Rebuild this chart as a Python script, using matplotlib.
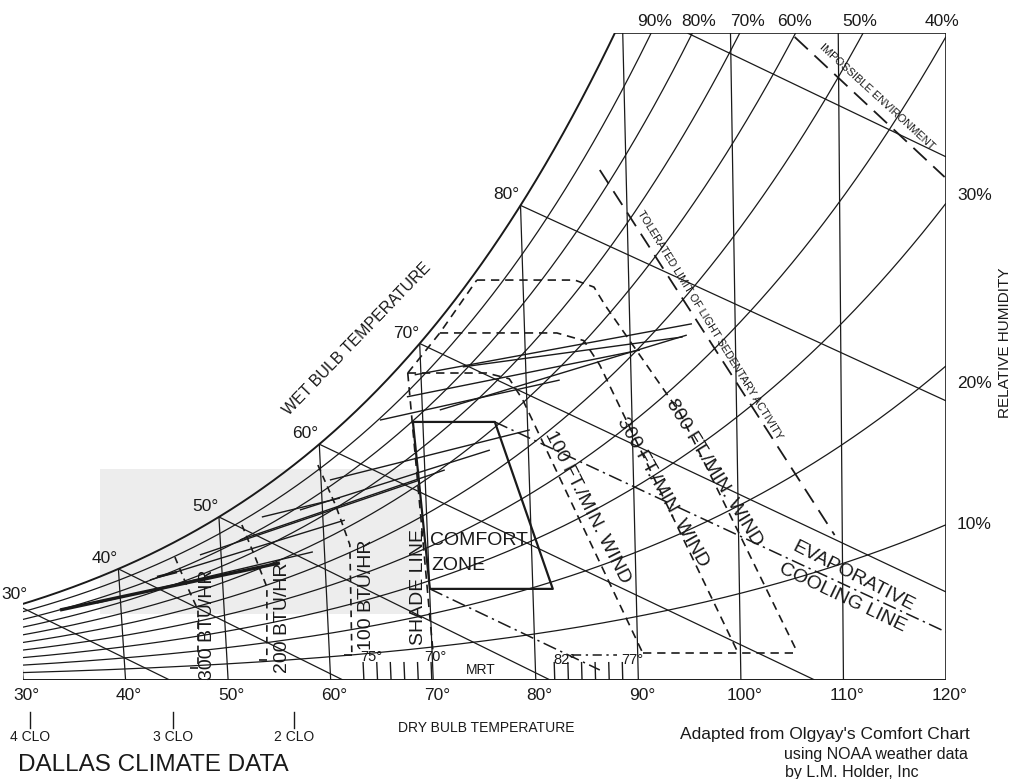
import numpy as np
import matplotlib
matplotlib.use("Agg")
import matplotlib.pyplot as plt
import matplotlib.transforms as mtransforms
from matplotlib.patches import Rectangle

plt.rcParams['font.family'] = ['Liberation Sans', 'DejaVu Sans']

# ---------------------------------------------------------------- chart frame
T_MIN, T_MAX = 30, 120          # dry bulb range, deg F
G_TOP = 211.6                   # humidity ratio at top edge, grains / lb dry air
LEAN = 0.0507                   # dry-bulb lines lean left as humidity rises
P_ATM = 1013.25                 # hPa

X_TICKS = [30, 40, 50, 60, 70, 80, 90, 100, 110, 120]
DRY_BULB_LINES = [40, 50, 60, 70, 80, 90, 100, 110]
RH_LEVELS = [0.9, 0.8, 0.7, 0.6, 0.5, 0.4, 0.3, 0.2, 0.1]
RH_TOP_LABELS = ['90%', '80%', '70%', '60%', '50%', '40%']
RH_TOP_LABEL_T = [92.97, 97.06, 101.54, 105.91, 112.0, 119.62]
RH_SIDE_LABELS = ['30%', '20%', '10%']
RH_SIDE_LABEL_G = [158.6, 97.1, 50.7]

# wet bulb lines: start on saturation, end point
WET_BULB_T = [30, 40, 50, 60, 70, 80]
WET_BULB_END_T = [44.3, 61.2, 81.4, 107.2, 120.0, 120.0]
WET_BULB_END_G = [0.0, 0.0, 0.0, 0.0, 28.8, 91.3]
UPPER_WB_T = [96.0, 120.0]
UPPER_WB_G = [G_TOP, 171.1]

CLO_LABELS = ['4 CLO', '3 CLO', '2 CLO']
CLO_T = [30.7, 44.6, 56.4]

# ------------------------------------------------------------ comfort overlay
COMFORT_T = [69.05, 76.88, 81.93, 70.03, 69.05]
COMFORT_G = [84.4, 84.4, 29.8, 29.8, 84.4]

SHADE_T = [68.75, 70.08]
SHADE_G = [100.4, 9.8]

WIND_LEFT_T = [68.75, 71.95, 75.64]
WIND_LEFT_G = [100.4, 113.5, 130.8]
WIND100_T = [68.75, 76.27, 78.4, 79.62, 90.49]
WIND100_G = [100.4, 100.4, 98.5, 91.6, 8.83]
WIND300_T = [71.95, 83.06, 85.6, 87.05, 99.64]
WIND300_G = [113.5, 113.5, 111.0, 103.0, 9.8]
WIND800_T = [75.64, 84.9, 86.7, 87.68, 94.6, 105.57]
WIND800_G = [130.8, 130.8, 128.5, 122.7, 87.3, 8.83]
WIND_BASE_T = [90.49, 105.57]
WIND_BASE_G = [8.83, 8.83]

EVAP_T = [76.88, 120.0]
EVAP_G = [84.4, 15.7]
LOWER_EVAP_T = [70.03, 86.27]
LOWER_EVAP_G = [29.8, 3.27]

TOLERATED_T = [87.54, 109.26]
TOLERATED_G = [166.8, 47.4]
IMPOSSIBLE_T = [105.95, 119.87]
IMPOSSIBLE_G = [210.3, 164.5]

RAD300_T = [45.53, 46.5, 47.46, 47.13]
RAD300_G = [40.2, 31.0, 22.9, 3.9]
RAD200_T = [52.17, 53.3, 54.26, 53.88]
RAD200_G = [50.7, 40.0, 30.4, 6.5]
RAD100_T = [59.77, 61.3, 62.48, 62.18]
RAD100_G = [70.3, 57.0, 44.2, 8.2]

MRT_LOW_T = [63.24, 64.57, 65.89, 67.22, 68.54, 69.86]     # 75..70
MRT_HIGH_T = [81.85, 83.18, 84.51, 85.83, 87.16, 88.48]    # 82..77
MRT_TICK_G = 5.9
MRT_LINE_T = [83.58, 87.96]
MRT_LINE_G = [8.2, 8.2]

# ------------------------------------------------- Dallas daily range lines
RANGE_T_LOW = [34.08, 37.71, 42.98, 47.96, 51.9, 57.83, 60.85, 65.9, 68.57,
               71.66, 74.01, 69.4, 54.13, 43.68]
RANGE_G_LOW = [22.9, 25.2, 32.7, 40.9, 45.8, 55.6, 65.4, 85.0, 92.6,
               88.3, 102.4, 99.8, 53.3, 33.7]
RANGE_T_HIGH = [55.64, 58.88, 62.11, 69.48, 71.92, 76.31, 80.2, 83.2, 90.9,
                95.39, 95.0, 95.9, 61.73, 45.64]
RANGE_G_HIGH = [38.3, 41.9, 52.3, 65.4, 68.7, 75.2, 81.8, 98.1, 107.9,
                112.8, 112.2, 116.5, 59.5, 35.3]
RANGE_WIDTH = [2.4, 1.0, 1.0, 1.0, 1.0, 1.0, 1.0, 1.0, 1.0,
               1.0, 1.0, 1.0, 1.0, 1.8]


def sat_pressure(t_f):
    c = (np.asarray(t_f, dtype=float) - 32.0) / 1.8
    return 6.112 * np.exp(17.62 * c / (243.12 + c))


def grains(t_f, rh):
    e = rh * sat_pressure(t_f)
    return 7000.0 * 0.622 * e / (P_ATM - e)


class DryBulbLean(mtransforms.Transform):
    """(dry bulb, grains) -> chart coordinates with slightly leaning dry-bulb lines."""
    input_dims = 2
    output_dims = 2
    is_separable = False
    has_inverse = False

    def transform_non_affine(self, values):
        v = np.asarray(values, dtype=float).reshape(-1, 2)
        t, g = v[:, 0], v[:, 1]
        return np.column_stack([t - LEAN * (T_MAX - t) * g / G_TOP, g])


fig = plt.figure(figsize=(10.2, 7.79), dpi=100)
ax = fig.add_axes([23 / 1020, 99 / 779, 923 / 1020, 647 / 779])
ax.set_xlim(T_MIN, T_MAX)
ax.set_ylim(0, G_TOP)
ax.axis('off')
chart = DryBulbLean() + ax.transData

INK = '#1a1a1a'

# faint shaded band behind the cool-season data
ax.add_patch(Rectangle((0.083, 0.102), 0.347, 0.224, transform=ax.transAxes,
                       facecolor='#ededed', edgecolor='none', zorder=0))


def line(t, g, lw=0.9, ls='-', **kw):
    ax.plot(t, g, transform=chart, color=INK, lw=lw, ls=ls,
            solid_capstyle='butt', **kw)


# saturation and relative humidity curves
t_dense = np.linspace(T_MIN, T_MAX, 800)
sat = grains(t_dense, 1.0)
t_top = np.interp(G_TOP, sat, t_dense)
ts = np.linspace(T_MIN, t_top, 400)
line(ts, grains(ts, 1.0), lw=1.4)
for rh in RH_LEVELS:
    line(t_dense, grains(t_dense, rh), lw=0.9)

# frame: top, right, bottom, left
line([t_top, T_MAX], [G_TOP, G_TOP], lw=1.2)
line([T_MAX, T_MAX], [0, G_TOP], lw=1.2)
line([T_MIN, T_MAX], [0, 0], lw=1.4)
line([T_MIN, T_MIN], [0, float(grains(T_MIN, 1.0))], lw=1.2)

# dry bulb lines
for t in DRY_BULB_LINES:
    line([t, t], [0, min(float(grains(t, 1.0)), G_TOP)], lw=0.9)

# wet bulb lines
for t, te, ge in zip(WET_BULB_T, WET_BULB_END_T, WET_BULB_END_G):
    line([t, te], [float(grains(t, 1.0)), ge], lw=0.9)
line(UPPER_WB_T, UPPER_WB_G, lw=0.9)

# daily temperature / humidity ranges
for tl, gl, th, gh, w in zip(RANGE_T_LOW, RANGE_G_LOW, RANGE_T_HIGH, RANGE_G_HIGH, RANGE_WIDTH):
    line([tl, th], [gl, gh], lw=w)

# comfort zone and its extensions
line(COMFORT_T, COMFORT_G, lw=1.6)
dash = (0, (5, 3.5))
line(SHADE_T, SHADE_G, lw=1.2, ls=dash)
line(WIND_LEFT_T, WIND_LEFT_G, lw=1.2, ls=dash)
line(WIND100_T, WIND100_G, lw=1.2, ls=dash)
line(WIND300_T, WIND300_G, lw=1.2, ls=dash)
line(WIND800_T, WIND800_G, lw=1.2, ls=dash)
line(WIND_BASE_T, WIND_BASE_G, lw=1.2, ls=dash)
line(EVAP_T, EVAP_G, lw=1.1, ls=(0, (9, 3, 1.5, 3)))
line(LOWER_EVAP_T, LOWER_EVAP_G, lw=1.1, ls=(0, (9, 3, 1.5, 3)))
line(MRT_LINE_T, MRT_LINE_G, lw=1.1, ls=(0, (6, 3, 1.5, 3)))
line(TOLERATED_T, TOLERATED_G, lw=1.3, ls=(0, (9, 5)))
line(IMPOSSIBLE_T, IMPOSSIBLE_G, lw=1.3, ls=(0, (10, 5)))

for rt, rg in ((RAD300_T, RAD300_G), (RAD200_T, RAD200_G), (RAD100_T, RAD100_G)):
    line(rt, rg, lw=1.2, ls=(0, (4, 3)))
    line([rt[-1] - 0.8, rt[-1]], [rg[-1], rg[-1]], lw=1.2)

for t in MRT_LOW_T + MRT_HIGH_T:
    line([t, t], [0, MRT_TICK_G], lw=1.0)


def label(t, g, s, size, rot=0.0, ha='center'):
    ax.text(t, g, s, transform=chart, fontsize=size, rotation=rot,
            rotation_mode='anchor', ha=ha, va='center', color=INK)


# wet bulb labels
for t in WET_BULB_T:
    off = (-2, 8) if t == 30 else (-10, 7.5)
    ax.annotate(f'{t}°', xy=(t, float(grains(t, 1.0))), xycoords=chart,
                xytext=off, textcoords='offset points', ha='center', va='center',
                fontsize=12.5, color=INK)

for s, t in zip(RH_TOP_LABELS, RH_TOP_LABEL_T):
    ax.annotate(s, xy=(t, G_TOP), xycoords=chart, xytext=(0, 8),
                textcoords='offset points', ha='center', va='center',
                fontsize=12.5, color=INK)
for s, g in zip(RH_SIDE_LABELS, RH_SIDE_LABEL_G):
    ax.annotate(s, xy=(T_MAX, g), xycoords=chart, xytext=(8, 0),
                textcoords='offset points', ha='left', va='center',
                fontsize=12.5, color=INK)

for t in X_TICKS:
    ax.annotate(f'{t}°', xy=(t, 0), xycoords='data', xytext=(2.5, -11),
                textcoords='offset points', ha='center', va='center',
                fontsize=12.5, color=INK)

for s, t in zip(CLO_LABELS, CLO_T):
    ax.plot([t, t], [-10.5, -15.8], color=INK, lw=1.0, clip_on=False)
    ax.annotate(s, xy=(t, 0), xycoords='data', xytext=(0, -41),
                textcoords='offset points', ha='center', va='center',
                fontsize=10, color=INK)

label(64.05, 111.5, 'WET BULB TEMPERATURE', 11.5, 46)
label(70.23, 45.5, 'COMFORT', 14, ha='left')
label(70.23, 37.6, 'ZONE', 14, ha='left')
label(68.97, 30.4, 'SHADE LINE', 14, 90)
label(48.34, 18.0, '300 BTU/HR', 14, 90)
label(55.65, 20.3, '200 BTU/HR', 14, 90)
label(63.9, 27.8, '100 BTU/HR', 14, 90)
label(85.54, 56.6, '100 FT./MIN. WIND', 14, -63)
label(92.78, 61.5, '300 FT./MIN. WIND', 14, -60.5)
label(97.7, 67.7, '800 FT./MIN. WIND', 14, -58.5)
label(111.07, 33.7, 'EVAPORATIVE', 14, -27)
label(109.98, 26.8, 'COOLING LINE', 14, -25.5)
label(97.58, 116.1, 'TOLERATED LIMIT OF LIGHT SEDENTARY ACTIVITY', 7.8, -58.3)
label(113.6, 190.6, 'IMPOSSIBLE ENVIRONMENT', 8, -42.4)

ax.text(64.0, 7.5, '75°', fontsize=10.5, ha='center', va='center', color=INK)
ax.text(70.2, 7.5, '70°', fontsize=10.5, ha='center', va='center', color=INK)
ax.text(74.6, 3.3, 'MRT', fontsize=10, ha='center', va='center', color=INK)
ax.text(82.8, 6.5, '82°', fontsize=10.5, ha='center', va='center', color=INK)
ax.text(89.4, 6.5, '77°', fontsize=10.5, ha='center', va='center', color=INK)

fig.text(1005 / 1020, 1 - 343 / 779, 'RELATIVE HUMIDITY', rotation=90,
         fontsize=11, ha='center', va='center', color=INK)
fig.text(486 / 1020, 1 - 728 / 779, 'DRY BULB TEMPERATURE', fontsize=10,
         ha='center', va='center', color=INK)
fig.text(18 / 1020, 1 - 765 / 779, 'DALLAS CLIMATE DATA', fontsize=17.5,
         ha='left', va='center', color=INK)
fig.text(970 / 1020, 1 - 735 / 779, "Adapted from Olgyay's Comfort Chart",
         fontsize=12.5, ha='right', va='center', color=INK)
fig.text(968 / 1020, 1 - 755 / 779, 'using NOAA weather data',
         fontsize=11.5, ha='right', va='center', color=INK)
fig.text(785 / 1020, 1 - 773 / 779, 'by L.M. Holder, Inc',
         fontsize=11.5, ha='left', va='center', color=INK)

fig.savefig('out.png', dpi=100)
